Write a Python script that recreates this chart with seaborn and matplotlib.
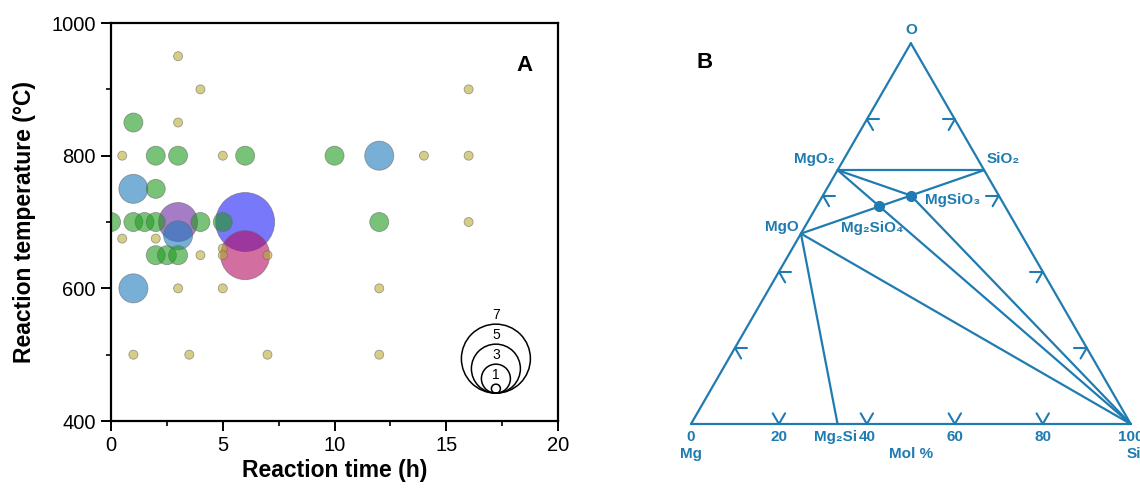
import numpy as np
import pandas as pd
import matplotlib
matplotlib.use("Agg")
import matplotlib.pyplot as plt
from matplotlib.ticker import MultipleLocator
import seaborn as sns

# ---- panel A data: reaction time (h), temperature (C), number of reports ----
time_h = [3, 4, 16, 3, 0.5, 5, 14, 16, 16, 0.5, 2, 4, 5, 5, 7, 3, 5, 12, 1, 3.5, 7, 12,
          1, 2, 3, 6, 10, 2, 0, 1, 1.5, 2, 4, 5, 12, 2, 2.5, 3,
          12, 1, 3, 1,
          3,
          6,
          6]
temp_c = [950, 900, 900, 850, 800, 800, 800, 800, 700, 675, 675, 650, 660, 650, 650, 600, 600, 600, 500, 500, 500, 500,
          850, 800, 800, 800, 800, 750, 700, 700, 700, 700, 700, 700, 700, 650, 650, 650,
          800, 750, 680, 600,
          700,
          650,
          700]
count = [1] * 22 + [2] * 16 + [3] * 4 + [4] + [5] + [6]

legend_counts = [7, 5, 3, 1]

palette = {1: "#bcad35", 2: "#1e9b1e", 3: "#1e7abc", 4: "#6a26a3", 5: "#b40d61", 6: "#1e1ef7"}

# ---- panel B data: Mg-Si-O ternary, compositions as mole fractions ----
phase_names = ["Mg", "Si", "O", "MgO", "MgO2", "SiO2", "Mg2Si", "Mg2SiO4", "MgSiO3"]
phase_mg = [1, 0, 0, 1 / 2, 1 / 3, 0, 2 / 3, 2 / 7, 1 / 5]
phase_si = [0, 1, 0, 0, 0, 1 / 3, 1 / 3, 1 / 7, 1 / 5]
phase_o = [0, 0, 1, 1 / 2, 2 / 3, 2 / 3, 0, 4 / 7, 3 / 5]
tie_lines = [("Mg", "Si"), ("Si", "O"), ("O", "Mg"), ("MgO2", "SiO2"), ("MgO", "SiO2"),
             ("MgO2", "Si"), ("MgO2", "MgSiO3"), ("MgSiO3", "Si"), ("MgO", "Si"), ("MgO", "Mg2Si")]
dot_phases = ["Mg2SiO4", "MgSiO3"]
edge_ticks = [0.2, 0.4, 0.6, 0.8]
base_labels = ["0", "20", "40", "60", "80", "100"]

BLUE = "#1f7bb0"

sns.set_style("ticks")
plt.rcParams["font.family"] = ["Liberation Sans", "DejaVu Sans"]
plt.rcParams.update({"text.color": "black", "axes.labelcolor": "black",
                     "xtick.color": "black", "ytick.color": "black"})

fig = plt.figure(figsize=(11.4, 4.9), dpi=100)

# ================= panel A =================
ax = fig.add_axes([0.0974, 0.1408, 0.3921, 0.8122])


def bubble_diam_px(n):
    return 10 * n - 1


def bubble_area(n):
    return (0.72 * bubble_diam_px(n)) ** 2


df = pd.DataFrame({"time": time_h, "temp": temp_c, "n": count})
df = df.sort_values("n", ascending=False, kind="stable")

sns.scatterplot(data=df, x="time", y="temp", hue="n", size="n",
                palette=palette, sizes={k: bubble_area(k) for k in palette},
                alpha=0.6, edgecolor="0.4", linewidth=0.6, legend=False, ax=ax)

ax.set_xlim(0, 20)
ax.set_ylim(400, 1000)
ax.set_xticks([0, 5, 10, 15, 20])
ax.set_yticks([400, 600, 800, 1000])
ax.xaxis.set_minor_locator(MultipleLocator(2.5))
ax.yaxis.set_minor_locator(MultipleLocator(100))
ax.tick_params(which="major", direction="out", length=7, width=1.4, labelsize=14.5, pad=4)
ax.tick_params(which="minor", direction="out", length=3.5, width=1.2)
for sp in ax.spines.values():
    sp.set_visible(True)
    sp.set_linewidth(1.6)
    sp.set_color("black")
ax.set_xlabel("Reaction time (h)", fontsize=16.5, fontweight="bold", labelpad=3)
ax.set_ylabel("Reaction temperature (°C)", fontsize=16.5, fontweight="bold", labelpad=11)
ax.text(0.926, 0.894, "A", transform=ax.transAxes, fontsize=16, fontweight="bold",
        ha="center", va="center")

# bubble size key: nested open circles sharing the bottom point
bbox = ax.get_window_extent()
key_x, key_base = 0.861, 0.07
for n in legend_counts:
    r_px = bubble_diam_px(n) / 2
    cy = key_base + r_px / bbox.height
    ax.scatter([key_x], [cy], s=bubble_area(n), facecolors="none", edgecolors="black",
               linewidths=1.1, transform=ax.transAxes, clip_on=False, zorder=5)
    ax.text(key_x, cy + (r_px + 9) / bbox.height, str(n), transform=ax.transAxes,
            fontsize=10, ha="center", va="center")

# ================= panel B =================
side_px, left_px, base_px = 439.7, 691, 424
ax2 = fig.add_axes([0.5, 0, 0.5, 1])
ax2.set_xlim((570 - left_px) / side_px, (1140 - left_px) / side_px)
ax2.set_ylim((base_px - 490) / side_px, base_px / side_px)
ax2.axis("off")


def tern(name):
    i = phase_names.index(name)
    tot = phase_mg[i] + phase_si[i] + phase_o[i]
    si_, o_ = phase_si[i] / tot, phase_o[i] / tot
    return np.array([si_ + o_ / 2, o_ * np.sqrt(3) / 2])


for a, b in tie_lines:
    p, q = tern(a), tern(b)
    ax2.plot([p[0], q[0]], [p[1], q[1]], color=BLUE, lw=1.6, solid_capstyle="round")

# edge marks: two short strokes parallel to the other two sides
arm = 0.028
pMg, pSi, pO = tern("Mg"), tern("Si"), tern("O")
for f in edge_ticks:
    for start, end, arms in [(pMg, pO, [(1, 0), (0.5, -np.sqrt(3) / 2)]),
                             (pSi, pO, [(-1, 0), (-0.5, -np.sqrt(3) / 2)]),
                             (pMg, pSi, [(0.5, np.sqrt(3) / 2), (-0.5, np.sqrt(3) / 2)])]:
        v = start + f * (end - start)
        for dx, dy in arms:
            ax2.plot([v[0], v[0] + arm * dx], [v[1], v[1] + arm * dy], color=BLUE, lw=1.5)

for name in dot_phases:
    p = tern(name)
    ax2.plot(p[0], p[1], "o", ms=7, color=BLUE)

txt = dict(fontsize=11, fontweight="bold", color=BLUE, textcoords="offset points",
           annotation_clip=False, va="center")


def label(s, name, dx, dy, ha="center", xy=None):
    p = tern(name) if xy is None else xy
    ax2.annotate(s, xy=p, xytext=(dx * 0.72, dy * 0.72), ha=ha, **txt)


label("O", "O", 0, 13)
label("MgO₂", "MgO2", -3, 11, ha="right")
label("SiO₂", "SiO2", 2, 11, ha="left")
label("MgSiO₃", "MgSiO3", 14, -4, ha="left")
label("Mg₂SiO₄", "Mg2SiO4", -7, -22)
label("MgO", "MgO", -2, 7, ha="right")
label("Mg₂Si", "Mg2Si", -2, -13)
for k, s in enumerate(base_labels):
    label(s, "Mg", 0, -13, xy=pMg + (k / 5) * (pSi - pMg))
label("Mg", "Mg", 0, -30)
label("Mol %", "Mg", 0, -30, xy=(pMg + pSi) / 2)
label("Si", "Si", 3, -30)

fig.text(705 / 1140, 1 - 63 / 490, "B", fontsize=16, fontweight="bold", ha="center", va="center")

fig.savefig("out.png", dpi=100)
plt.close(fig)
